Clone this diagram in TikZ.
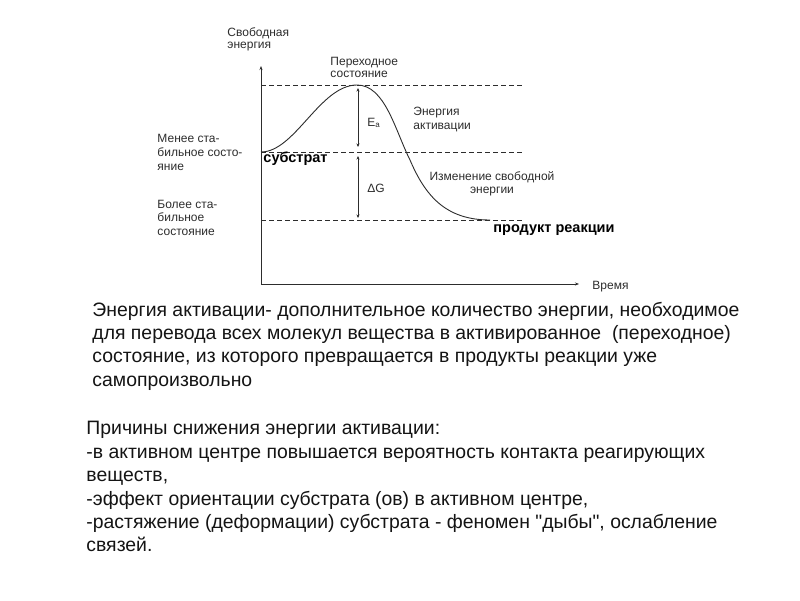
\documentclass[tikz,border=0pt]{standalone}
\usepackage{fontspec}
\setmainfont{Liberation Sans}[Ligatures=TeXOff]
\usetikzlibrary{arrows.meta}
\definecolor{grafik}{RGB}{45,45,45}
\definecolor{schrift}{RGB}{20,20,20}
\begin{document}
\begin{tikzpicture}[x=1pt, y=-1pt, line width=0.9pt, line join=round,
    achse/.style={draw=grafik, line width=1pt, -{Stealth[length=4pt,width=3pt]}},
    uroven/.style={draw=grafik, dash pattern=on 5pt off 3pt},
    pfeil/.style={draw=grafik, line width=0.8pt, {Stealth[length=3.5pt,width=3pt]}-{Stealth[length=3.5pt,width=3pt]}},
    podpis/.style={inner sep=0pt, text=grafik, align=left, font=\fontsize{12}{14}\selectfont},
    zhirn/.style={inner sep=0pt, text=black, font=\fontsize{14.5}{16}\selectfont\bfseries},
    tekst/.style={inner sep=0pt, text=schrift, align=left, anchor=north west, font=\fontsize{19.4}{23.4}\selectfont}]
  \useasboundingbox[fill=white] (0,0) rectangle (800,600);
  % Achsen
  \coordinate (nullp) at (261,284);
  \coordinate (yend) at (261,66);
  \coordinate (xend) at (579,284);
  \draw[achse] (nullp) -- (yend);
  \draw[achse] (nullp) -- (xend);
  % Niveaus: Uebergangszustand, Substrat, Produkt
  \coordinate (perL) at (261,85);  \coordinate (perR) at (524,85);
  \coordinate (subL) at (261,152); \coordinate (subR) at (524,152);
  \coordinate (proL) at (261,220); \coordinate (proR) at (524,220);
  \draw[uroven] (perL) -- (perR);
  \draw[uroven] (subL) -- (subR);
  \draw[uroven] (proL) -- (proR);
  % Energiekurve
  \draw[draw=grafik] (subL) .. controls (295,152) and (320,85) .. (357,85)
    .. controls (385,85) and (395,130) .. (410,160)
    .. controls (425,195) and (445,220) .. (490,220);
  % Ea und Delta G
  \coordinate (ea1) at (358,88);  \coordinate (ea2) at (358,147);
  \coordinate (dg1) at (358,156); \coordinate (dg2) at (358,218);
  \draw[pfeil] (ea1) -- (ea2);
  \draw[pfeil] (dg1) -- (dg2);
  % Beschriftung des Diagramms
  \node[podpis, anchor=north west, font=\fontsize{12}{11.8}\selectfont] (svob) at (227,27.4) {Свободная\\энергия};
  \node[podpis, anchor=north west, font=\fontsize{12}{12}\selectfont] (perex) at (330,56.4) {Переходное\\состояние};
  \node[podpis, anchor=north west] (enakt) at (413,106.4) {Энергия\\активации};
  \node[podpis, anchor=north west] (menee) at (157,133.4) {Менее ста-\\бильное состо-\\яние};
  \node[podpis, anchor=north west, font=\fontsize{12}{13.6}\selectfont] (bolee) at (157,199.4) {Более ста-\\бильное\\состояние};
  \node[podpis, anchor=north, align=center, font=\fontsize{12}{13.2}\selectfont] (izmen) at (492,171.4) {Изменение свободной\\энергии};
  \node[podpis, anchor=base west] (ea) at (367,126) {E\textsubscript{a}};
  \node[podpis, anchor=base west] (dg) at (367,192) {ΔG};
  \node[podpis, anchor=base west] (vremya) at (592,289) {Время};
  \node[zhirn, anchor=base west] (substr) at (263,162) {субстрат};
  \node[zhirn, anchor=base west] (produkt) at (493,232) {продукт реакции};
  % Text unter dem Diagramm
  \node[tekst] (opred) at (92,301.5) {Энергия активации- дополнительное количество энергии, необходимое\\для перевода всех молекул вещества в активированное~ (переходное)\\состояние, из которого превращается в продукты реакции уже\\самопроизвольно};
  \node[tekst] (prichiny) at (86,421) {Причины снижения энергии активации:\\-в активном центре повышается вероятность контакта реагирующих\\веществ,\\-эффект ориентации субстрата (ов) в активном центре,\\-растяжение (деформации) субстрата - феномен "дыбы", ослабление\\связей.};
\end{tikzpicture}
\end{document}
